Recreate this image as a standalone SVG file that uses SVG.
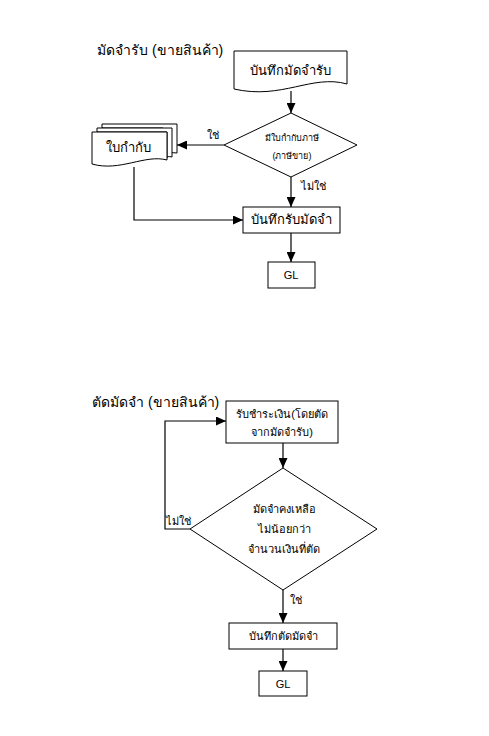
<svg xmlns="http://www.w3.org/2000/svg" width="489" height="736" viewBox="0 0 489 736">
<style>
.s{fill:#fff;stroke:#000;stroke-width:1}
.c{fill:none;stroke:#000;stroke-width:1.2}
text{font-family:"Liberation Sans","Noto Sans",sans-serif;fill:#000}
.t{font-size:14px}
.m{font-size:13px;text-anchor:middle}
.n{font-size:11px;text-anchor:middle}
.x{font-size:9px;text-anchor:middle}
.l{font-size:11px}
</style>
<defs>
<marker id="a" markerUnits="userSpaceOnUse" markerWidth="10" markerHeight="9" refX="10" refY="4.5" orient="auto">
<path d="M0,0 L10,4.5 L0,9 Z" fill="#000"/>
</marker>
</defs>
<rect width="489" height="736" fill="#fff"/>
<text class="t" x="97" y="55">มัดจำรับ (ขายสินค้า)</text>
<text class="t" x="92" y="407">ตัดมัดจำ (ขายสินค้า)</text>
<g id="connectors">
<path class="c" d="M291,91 V113" marker-end="url(#a)"/>
<path class="c" d="M224,145 H177" marker-end="url(#a)"/>
<path class="c" d="M134,167 V220 H243" marker-end="url(#a)"/>
<path class="c" d="M291,177 V207" marker-end="url(#a)"/>
<path class="c" d="M291,233 V262" marker-end="url(#a)"/>
<path class="c" d="M283,443 V468" marker-end="url(#a)"/>
<path class="c" d="M190,529 H165 V421 H226" marker-end="url(#a)"/>
<path class="c" d="M283,590 V623" marker-end="url(#a)"/>
<path class="c" d="M283,649 V671" marker-end="url(#a)"/>
<text class="l" x="207" y="139">ใช่</text>
<text class="l" x="301" y="190">ไม่ใช่</text>
<text class="l" x="166" y="525">ไม่ใช่</text>
<text class="l" x="290" y="604">ใช่</text>
</g>
<g id="doc1">
<path class="s" d="M234,51 H347 V84 C312,74 282,100 234,89 Z"/>
<text class="m" x="290" y="75">บันทึกมัดจำรับ</text>
</g>
<g id="dec1">
<path class="s" d="M291,113 L357,145 L291,177 L224,145 Z"/>
<text class="x" x="292" y="141">มีใบกำกับภาษี</text>
<text class="x" x="292" y="159">(ภาษีขาย)</text>
</g>
<g id="invoice">
<path class="s" d="M102,124 H177 V153 C168,152 165,154 163,154 V128 H102 Z"/>
<path class="s" d="M97,128 H172 V157 C168,156 166,157 167,158 V132 H97 Z"/>
<path class="s" d="M92,132 H167 V160 C145,154 120,172 92,164 Z"/>
<text class="m" x="128" y="152">ใบกำกับ</text>
</g>
<g id="rec1">
<rect class="s" x="243" y="207" width="97" height="26"/>
<text class="m" x="291" y="224">บันทึกรับมัดจำ</text>
</g>
<g id="gl1">
<rect class="s" x="268" y="262" width="47" height="26"/>
<text class="n" x="291" y="279">GL</text>
</g>
<g id="pay">
<rect class="s" x="226" y="401" width="112" height="42"/>
<text class="n" x="282" y="418">รับชำระเงิน(โดยตัด</text>
<text class="n" x="282" y="436">จากมัดจำรับ)</text>
</g>
<g id="dec2">
<path class="s" d="M283,468 L377,529 L283,590 L190,529 Z"/>
<text class="n" x="284" y="513">มัดจำคงเหลือ</text>
<text class="n" x="284" y="533">ไม่น้อยกว่า</text>
<text class="n" x="284" y="553">จำนวนเงินที่ตัด</text>
</g>
<g id="rec2">
<rect class="s" x="229" y="623" width="108" height="26"/>
<text class="n" x="283" y="640">บันทึกตัดมัดจำ</text>
</g>
<g id="gl2">
<rect class="s" x="259" y="671" width="48" height="25"/>
<text class="n" x="283" y="688">GL</text>
</g>
</svg>
